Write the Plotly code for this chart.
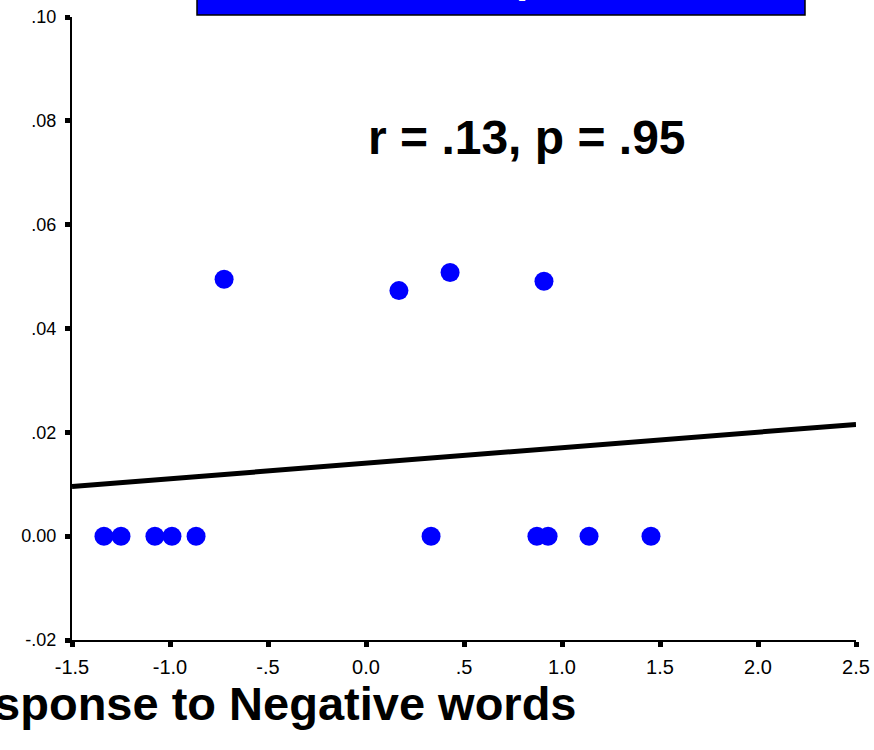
import numpy as np
import plotly.graph_objects as go

# Data
x_vals = [-1.337, -1.25, -1.077, -0.99, -0.867, 0.332, 0.872, 0.929, 1.138, 1.454,
          -0.724, 0.168, 0.429, 0.908]
y_vals = [0, 0, 0, 0, 0, 0, 0, 0, 0, 0,
          0.0495, 0.0473, 0.0508, 0.0491]

x_ticks = [-1.5, -1.0, -0.5, 0.0, 0.5, 1.0, 1.5, 2.0, 2.5]
x_tick_labels = ["-1.5", "-1.0", "-.5", "0.0", ".5", "1.0", "1.5", "2.0", "2.5"]
y_ticks = [-0.02, 0.0, 0.02, 0.04, 0.06, 0.08, 0.10]
y_tick_labels = ["-.02", "0.00", ".02", ".04", ".06", ".08", ".10"]

stat_text = "r = .13, p = .95"
x_title = "Response to Negative words"
box_title = "Sample"

slope, intercept = np.polyfit(x_vals, y_vals, 1)
fit_x = [x_ticks[0], x_ticks[-1]]
fit_y = [intercept + slope * v for v in fit_x]

FONT = "Liberation Sans, Arial, sans-serif"
BOLD = "Liberation Sans, Arial, sans-serif"

L, R, T, B = 72, 18, 17, 110
PW, PH = 874 - L - R, 750 - T - B

def px(xp):
    return (xp - L) / PW

def py(yp):
    return (750 - B - yp) / PH

fig = go.Figure()
fig.add_trace(go.Scatter(x=fit_x, y=fit_y, mode="lines",
                         line=dict(color="black", width=5), hoverinfo="skip"))
fig.add_trace(go.Scatter(x=x_vals, y=y_vals, mode="markers",
                         marker=dict(color="#0000FF", size=19, line=dict(width=0))))

fig.update_layout(
    width=874, height=750,
    margin=dict(l=L, r=R, t=T, b=B, autoexpand=False),
    paper_bgcolor="white", plot_bgcolor="white",
    showlegend=False,
    xaxis=dict(range=[-1.5, 2.5], tickvals=x_ticks, ticktext=x_tick_labels,
               automargin=False,
               showgrid=False, zeroline=False, showline=True, linecolor="black",
               linewidth=2, ticks="outside", ticklen=5, tickwidth=5, tickcolor="black",
               ticklabelstandoff=3,
               tickfont=dict(family=FONT, size=20, color="black")),
    yaxis=dict(range=[-0.02, 0.10], tickvals=y_ticks, ticktext=y_tick_labels,
               automargin=False,
               showgrid=False, zeroline=False, showline=True, linecolor="black",
               linewidth=2, ticks="outside", ticklen=5, tickwidth=5, tickcolor="black",
               ticklabelstandoff=5,
               tickfont=dict(family=FONT, size=18, color="black")),
)

fig.add_shape(type="rect", xref="paper", yref="paper",
              x0=px(197), x1=px(805), y0=py(15), y1=py(-60),
              fillcolor="#0000FF", line=dict(color="black", width=1.5))

fig.add_annotation(text=box_title, xref="paper", yref="paper",
                   x=px(501), xanchor="center", y=py(3), yanchor="bottom",
                   showarrow=False,
                   font=dict(family=BOLD, size=44, color="white", weight="bold"))

fig.add_annotation(text=stat_text, xref="paper", yref="paper",
                   x=px(527), xanchor="center", y=py(137), yanchor="middle",
                   showarrow=False,
                   font=dict(family=BOLD, size=48, color="black", weight="bold"))

fig.add_annotation(text=x_title, xref="paper", yref="paper",
                   x=px(579), xanchor="right",
                   y=py(703), yanchor="middle", showarrow=False,
                   font=dict(family=BOLD, size=47, color="black", weight="bold"))

fig.write_html("out.html",
               config={"displayModeBar": False},
               post_script="document.body.style.margin='0';document.body.style.overflow='hidden';")
